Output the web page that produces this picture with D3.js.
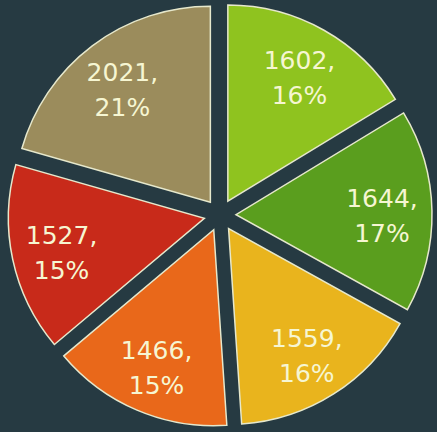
<!DOCTYPE html>
<html>
    <head>
        <meta charset="utf-8">
        <script src="https://cdn.jsdelivr.net/npm/d3@7"></script>
        <style>
            body { margin: 0; background: #263a42; }
        </style>
        <script>
            var values = [1602, 1644, 1559, 1466, 1527, 2021];
            var percents = ["16%", "17%", "16%", "15%", "15%", "21%"];
            var colors = ["#8fc31f", "#5a9e1e", "#e9b41d", "#e9681a", "#c82a1a", "#9b8c5c"];

            function makeSVG() {
                var svg = d3.select("body").append("svg")
                                           .attr("width", 437)
                                           .attr("height", 432);

                svg.append("rect")
                   .attr("width", 437)
                   .attr("height", 432)
                   .attr("fill", "#263a42");

                const cx = 220, cy = 215;
                const radius = 196;
                const explode = 16;

                var pie = d3.pie().sort(null).value(d => d);
                var arcs = pie(values);

                var arc = d3.arc().innerRadius(0).outerRadius(radius);
                var labelArc = d3.arc().innerRadius(146).outerRadius(146);

                var fig = svg.append("g")
                             .attr("transform", "translate(" + cx + "," + cy + ")");

                var slices = fig.selectAll("g.slice").data(arcs)
                                .enter()
                                .append("g")
                                .attr("class", "slice")
                                .attr("transform", function (d) {
                                    var mid = (d.startAngle + d.endAngle) / 2;
                                    return "translate(" + (explode * Math.sin(mid)) + "," + (-explode * Math.cos(mid)) + ")";
                                });

                slices.append("path")
                      .attr("d", arc)
                      .attr("fill", (d, i) => colors[i])
                      .attr("stroke", "#e6e8cc")
                      .attr("stroke-width", 1.5);

                var labels = slices.append("text")
                                   .attr("transform", d => "translate(" + labelArc.centroid(d) + ")")
                                   .attr("text-anchor", "middle")
                                   .attr("font-family", "DejaVu Sans")
                                   .attr("font-size", "25px")
                                   .attr("fill", "#f6f6d2");

                labels.append("tspan")
                      .attr("x", 0)
                      .attr("y", -5)
                      .text(d => d.data + ",");

                labels.append("tspan")
                      .attr("x", 0)
                      .attr("y", 30)
                      .text((d, i) => percents[i]);
            }
        </script>
    </head>
    <body onload="makeSVG()">
    </body>
</html>
